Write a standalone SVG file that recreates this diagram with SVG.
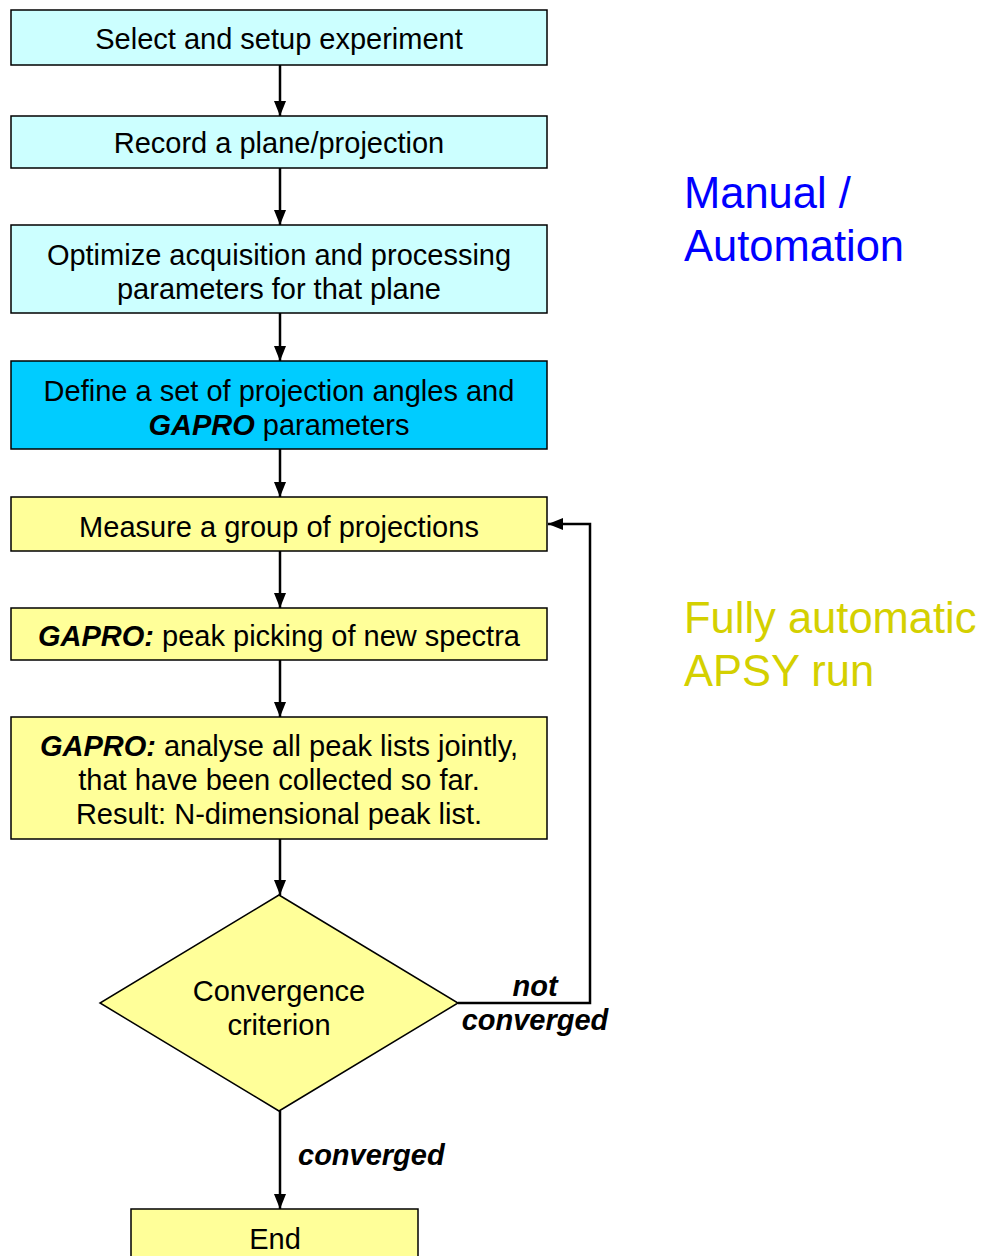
<svg xmlns="http://www.w3.org/2000/svg" width="986" height="1256" viewBox="0 0 986 1256">
  <defs>
    <style>
      .box { stroke: #000; stroke-width: 1.5; }
      .cyan { fill: #ccffff; }
      .blue { fill: #00ccff; }
      .yellow { fill: #ffff99; }
      .t { font-family: "Liberation Sans", Arial, sans-serif; font-size: 29px; fill: #000; text-anchor: middle; }
      .bi { font-weight: bold; font-style: italic; }
      .lbl { font-family: "Liberation Sans", Arial, sans-serif; font-size: 29px; font-weight: bold; font-style: italic; fill: #000; }
      .side { font-family: "Liberation Sans", Arial, sans-serif; font-size: 43.5px; }
      .edge { fill: none; stroke: #000; stroke-width: 2.5; }
    </style>
    <!-- filled triangular arrowhead, tip at the path end -->
    <marker id="arr" viewBox="0 0 15 12" refX="15" refY="6" markerWidth="15" markerHeight="12" markerUnits="userSpaceOnUse" orient="auto">
      <path d="M0,0 L15,6 L0,12 Z" fill="#000"/>
    </marker>
  </defs>

  <rect width="986" height="1256" fill="#fff"/>

  <!-- connectors -->
  <g id="connectors">
    <line class="edge" x1="280" y1="65" x2="280" y2="116" marker-end="url(#arr)"/>
    <line class="edge" x1="280" y1="168" x2="280" y2="225" marker-end="url(#arr)"/>
    <line class="edge" x1="280" y1="313" x2="280" y2="361" marker-end="url(#arr)"/>
    <line class="edge" x1="280" y1="449" x2="280" y2="497" marker-end="url(#arr)"/>
    <line class="edge" x1="280" y1="551" x2="280" y2="608" marker-end="url(#arr)"/>
    <line class="edge" x1="280" y1="660" x2="280" y2="717" marker-end="url(#arr)"/>
    <line class="edge" x1="280" y1="839" x2="280" y2="895" marker-end="url(#arr)"/>
    <line class="edge" x1="280" y1="1111" x2="280" y2="1209" marker-end="url(#arr)"/>
    <path class="edge" d="M458,1003 H590 V524 H548" marker-end="url(#arr)"/>
    <text class="lbl" x="535" y="996" text-anchor="middle">not</text>
    <text class="lbl" x="535" y="1030" text-anchor="middle">converged</text>
    <text class="lbl" x="298" y="1165">converged</text>
  </g>

  <g id="n1">
    <rect class="box cyan" x="11" y="10" width="536" height="55"/>
    <text class="t" x="279" y="49">Select and setup experiment</text>
  </g>
  <g id="n2">
    <rect class="box cyan" x="11" y="116" width="536" height="52"/>
    <text class="t" x="279" y="153">Record a plane/projection</text>
  </g>
  <g id="n3">
    <rect class="box cyan" x="11" y="225" width="536" height="88"/>
    <text class="t" x="279" y="265">Optimize acquisition and processing</text>
    <text class="t" x="279" y="299">parameters for that plane</text>
  </g>
  <g id="n4">
    <rect class="box blue" x="11" y="361" width="536" height="88"/>
    <text class="t" x="279" y="401">Define a set of projection angles and</text>
    <text class="t" x="279" y="435"><tspan class="bi">GAPRO</tspan> parameters</text>
  </g>
  <g id="n5">
    <rect class="box yellow" x="11" y="497" width="536" height="54"/>
    <text class="t" x="279" y="537">Measure a group of projections</text>
  </g>
  <g id="n6">
    <rect class="box yellow" x="11" y="608" width="536" height="52"/>
    <text class="t" x="279" y="646"><tspan class="bi">GAPRO:</tspan> peak picking of new spectra</text>
  </g>
  <g id="n7">
    <rect class="box yellow" x="11" y="717" width="536" height="122"/>
    <text class="t" x="279" y="756"><tspan class="bi">GAPRO:</tspan> analyse all peak lists jointly,</text>
    <text class="t" x="279" y="790">that have been collected so far.</text>
    <text class="t" x="279" y="824">Result: N-dimensional peak list.</text>
  </g>
  <g id="n8">
    <polygon class="box yellow" points="279,895 458,1003 279,1111 100,1003"/>
    <text class="t" x="279" y="1001">Convergence</text>
    <text class="t" x="279" y="1035">criterion</text>
  </g>
  <g id="n9">
    <rect class="box yellow" x="131" y="1209" width="287" height="60"/>
    <text class="t" x="275" y="1249">End</text>
  </g>

  <g id="side-labels">
    <text class="side" x="684" y="208" fill="#0000ff">Manual /</text>
    <text class="side" x="684" y="261" fill="#0000ff">Automation</text>
    <text class="side" x="684" y="633" fill="#d4d000">Fully automatic</text>
    <text class="side" x="684" y="686" fill="#d4d000">APSY run</text>
  </g>
</svg>
